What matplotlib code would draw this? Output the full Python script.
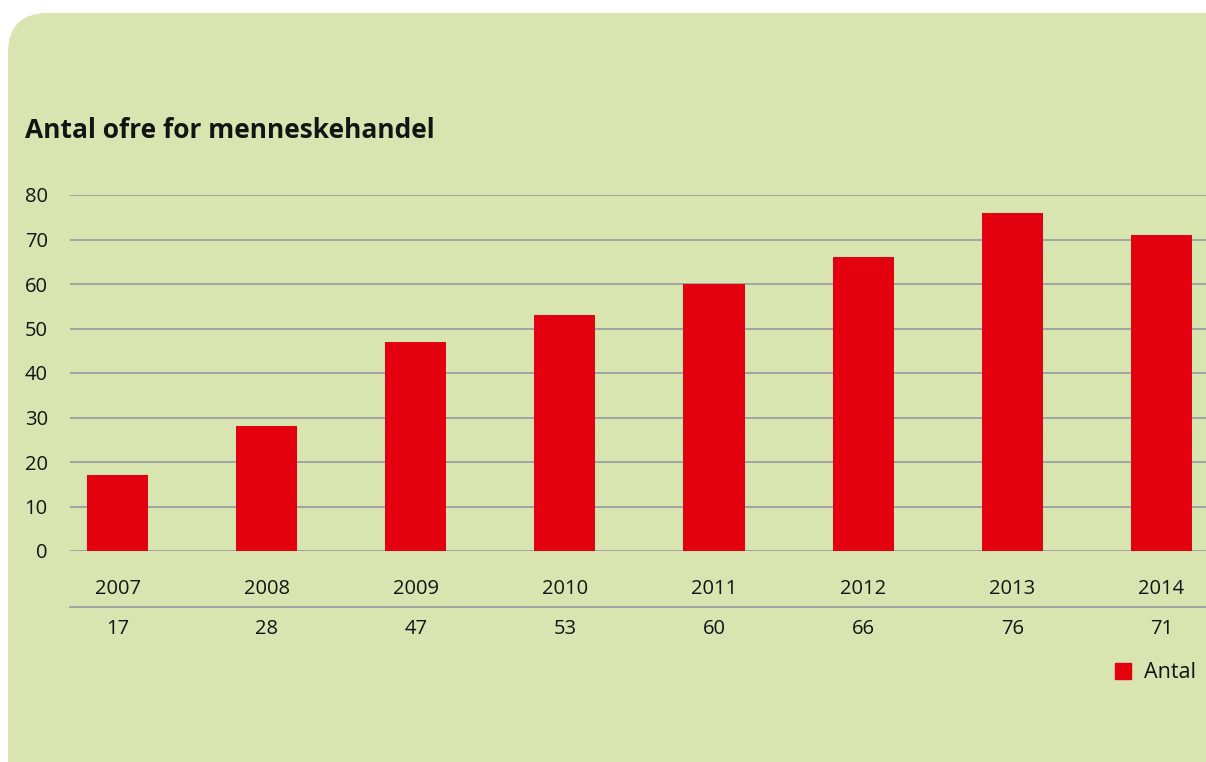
import matplotlib.pyplot as plt
from matplotlib.patches import FancyBboxPatch, Patch

years = ["2007", "2008", "2009", "2010", "2011", "2012", "2013", "2014"]
antal = [17, 28, 47, 53, 60, 66, 76, 71]
yticks = [0, 10, 20, 30, 40, 50, 60, 70, 80]

green = "#D8E5B1"
red = "#E3000F"
grid = "#A3A3A3"
ink = "#141414"

plt.rcParams['font.family'] = ['Open Sans', 'DejaVu Sans']

W, H = 1206, 762
fig = plt.figure(figsize=(W / 100, H / 100), dpi=100)
fig.patch.set_facecolor("white")

# green panel with a rounded top-left corner (pixel coords)
panel = FancyBboxPatch((8, -60), W + 60, H - 13 + 60,
                       boxstyle="round,pad=0,rounding_size=40",
                       transform=None, facecolor=green, edgecolor="none", zorder=0)
fig.add_artist(panel)

fig.text(25 / W, 1 - 130 / H, "Antal ofre for menneskehandel",
         fontsize=19, fontweight="bold", color=ink, va="center", ha="left")

ax = fig.add_axes([70 / W, 211 / H, (W - 70) / W, 356 / H])
ax.set_facecolor("none")
x = list(range(len(years)))
ax.bar(x, antal, width=0.41, color=red, zorder=3, label="Antal")
ax.set_xlim(-0.319, 7.30)
ax.set_ylim(0, 80)

for t in yticks:
    ax.axhline(t, color=grid, lw=1.4, zorder=1)

ax.set_yticks(yticks)
ax.set_yticklabels([str(t) for t in yticks])
ax.tick_params(axis="y", length=0, pad=16, labelsize=14.5, labelcolor=ink)
ax.set_xticks([])
for s in ax.spines.values():
    s.set_visible(False)

# data table under the chart
for i, (yr, v) in enumerate(zip(years, antal)):
    ax.text(i, -0.107, yr, transform=ax.get_xaxis_transform(),
            ha="center", va="center", fontsize=14.5, color=ink)
    ax.text(i, -0.219, str(v), transform=ax.get_xaxis_transform(),
            ha="center", va="center", fontsize=14.5, color=ink)
ax.plot([0, 1], [-0.157, -0.157], transform=ax.transAxes,
        color=grid, lw=1.4, clip_on=False)

fig.legend(handles=[Patch(color=red, label="Antal")],
           loc="center left", bbox_to_anchor=(1104 / W, 1 - 673 / H),
           frameon=False, fontsize=15.5, handlelength=0.75, handleheight=0.75,
           handletextpad=0.6, borderpad=0, labelcolor=ink)

fig.savefig("out.png", dpi=100)
